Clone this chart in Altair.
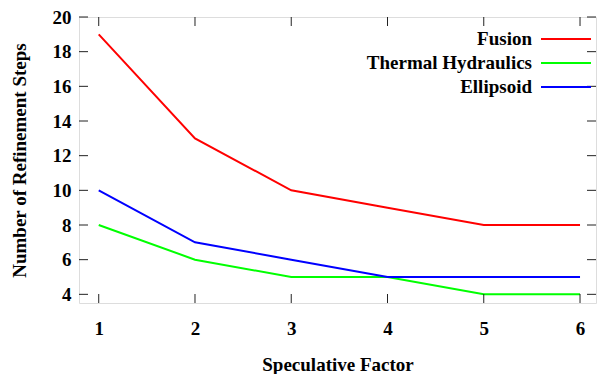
import altair as alt
import pandas as pd

factors = [1, 2, 3, 4, 5, 6]
series_names = ["Fusion", "Thermal Hydraulics", "Ellipsoid"]
fusion = [19, 13, 10, 9, 8, 8]
thermal = [8, 6, 5, 5, 4, 4]
ellipsoid = [10, 7, 6, 5, 5, 5]
colors = ["#ff0000", "#00ff00", "#0000ff"]
x_ticks = [1, 2, 3, 4, 5, 6]
y_ticks = [4, 6, 8, 10, 12, 14, 16, 18, 20]

rows = []
for name, vals in zip(series_names, [fusion, thermal, ellipsoid]):
    for f, v in zip(factors, vals):
        rows.append({"factor": f, "steps": v, "series": name})
df = pd.DataFrame(rows)
xt = pd.DataFrame({"v": x_ticks})
yt = pd.DataFrame({"v": y_ticks})
leg = pd.DataFrame({"series": series_names, "idx": list(range(len(series_names)))})

W, H = 517, 286
TL = 9
FONT = "Liberation Serif"
FS = 19

xscale = alt.Scale(domain=[0.795, 6.166], nice=False, zero=False)
yscale = alt.Scale(domain=[3.5, 20], nice=False, zero=False)
xaxis = alt.Axis(values=x_ticks, ticks=False, tickSize=0, domain=False, grid=False,
                 labelPadding=31, labelBaseline="alphabetic", labelFont=FONT,
                 labelFontSize=FS, labelFontWeight="bold", labelColor="black",
                 title="Speculative Factor", titleFont=FONT, titleFontSize=FS,
                 titleFontWeight="bold", titleColor="black", titleY=67,
                 titleBaseline="alphabetic")
yaxis = alt.Axis(values=y_ticks, ticks=False, tickSize=0, domain=False, grid=False,
                 labelPadding=8, labelFont=FONT, labelFontSize=FS,
                 labelFontWeight="bold", labelColor="black",
                 title="Number of Refinement Steps", titleFont=FONT, titleFontSize=FS,
                 titleFontWeight="bold", titleColor="black", titleX=-60,
                 titleBaseline="middle")

lines = alt.Chart(df).mark_line(strokeWidth=2).encode(
    x=alt.X("factor:Q", scale=xscale, axis=xaxis),
    y=alt.Y("steps:Q", scale=yscale, axis=yaxis),
    color=alt.Color("series:N", scale=alt.Scale(domain=series_names, range=colors), legend=None),
)

tick_color = "#222222"
bt = alt.Chart(xt).mark_rule(color=tick_color, strokeWidth=1).encode(
    x=alt.X("v:Q", scale=xscale, axis=xaxis), y=alt.value(H), y2=alt.value(H - TL))
tt = alt.Chart(xt).mark_rule(color=tick_color, strokeWidth=1).encode(
    x=alt.X("v:Q", scale=xscale, axis=xaxis), y=alt.value(0), y2=alt.value(TL))
lt = alt.Chart(yt).mark_rule(color=tick_color, strokeWidth=1).encode(
    y=alt.Y("v:Q", scale=yscale, axis=yaxis), x=alt.value(0), x2=alt.value(TL))
rt = alt.Chart(yt).mark_rule(color=tick_color, strokeWidth=1).encode(
    y=alt.Y("v:Q", scale=yscale, axis=yaxis), x=alt.value(W), x2=alt.value(W - TL))

main = alt.layer(lines, bt, tt, lt, rt)

lscale = alt.Scale(domain=[0, 2], range=[22, 70])
leg_text = alt.Chart(leg).mark_text(align="right", baseline="middle", font=FONT,
                                    fontSize=FS, fontWeight="bold", color="black").encode(
    x=alt.value(453), y=alt.Y("idx:Q", scale=lscale, axis=None), text="series:N")
leg_line = alt.Chart(leg).mark_rule(strokeWidth=2).encode(
    x=alt.value(462), x2=alt.value(512), y=alt.Y("idx:Q", scale=lscale, axis=None),
    color=alt.Color("series:N", scale=alt.Scale(domain=series_names, range=colors), legend=None))

chart = alt.layer(main, leg_text, leg_line).resolve_scale(y="independent").properties(
    width=W, height=H,
    autosize=alt.AutoSizeParams(type="none"),
    padding={"left": 71, "top": 9, "right": 1, "bottom": 71},
).configure_view(stroke="#222222", strokeWidth=1.2).configure(background="white")

chart.save("out.html", embed_options={"renderer": "svg", "actions": False})
